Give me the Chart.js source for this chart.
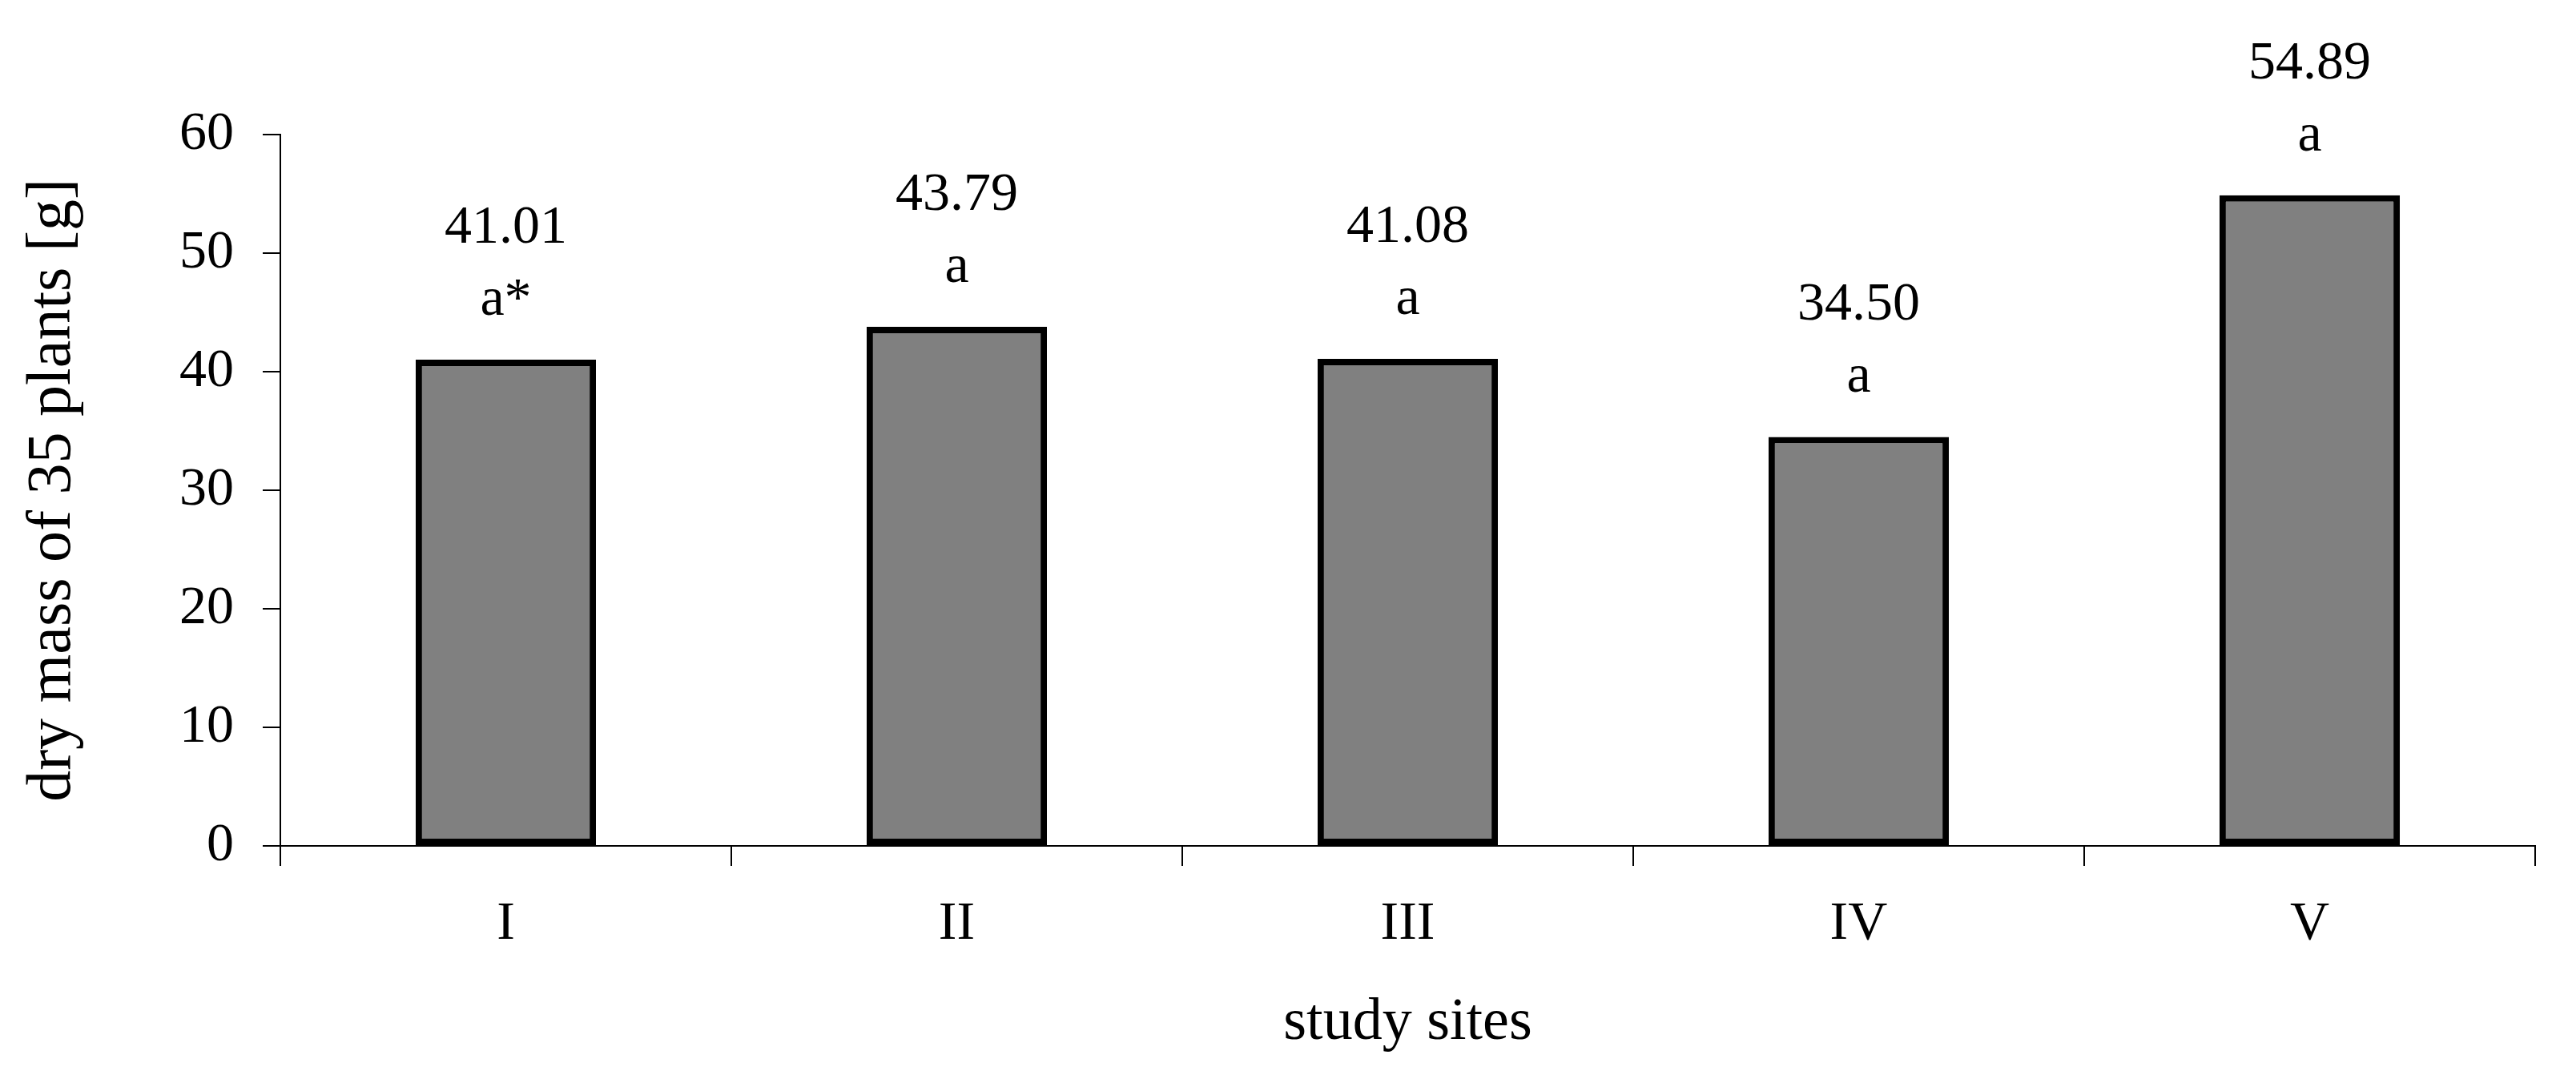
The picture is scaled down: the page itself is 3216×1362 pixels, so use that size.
<!DOCTYPE html>
<html>
<head>
<meta charset="utf-8">
<title>dry mass of 35 plants</title>
<script src="https://cdn.jsdelivr.net/npm/chart.js@4.4.1/dist/chart.umd.min.js"></script>
<style>
  html, body { margin: 0; padding: 0; background: #fff; }
  #chart-div { width: 3216px; height: 1362px; }
</style>
</head>
<body>
<div id="chart-div"><canvas id="myChart" width="3216" height="1362"></canvas></div>
<script>
// study sites and the dry mass
var sites = ["I", "II", "III", "IV", "V"];
var dryMass = [41.01, 43.79, 41.08, 34.50, 54.89];
// significance letters printed under each value
var letters = ["a*", "a", "a", "a", "a"];
var yTicks = [0, 10, 20, 30, 40, 50, 60];

var serif = "'Liberation Serif', 'Times New Roman', serif";

// draws the value and the letter above every bar
var barLabels = {
    id: "barLabels",
    afterDatasetsDraw: function (chart) {
        var ctx = chart.ctx;
        var meta = chart.getDatasetMeta(0);
        ctx.save();
        ctx.fillStyle = "#000";
        ctx.textAlign = "center";
        ctx.textBaseline = "alphabetic";
        ctx.font = "68px " + serif;
        for (var i = 0; i < meta.data.length; i++) {
            var bar = meta.data[i];
            ctx.fillText(dryMass[i].toFixed(2), bar.x, bar.y - 146);
            ctx.fillText(letters[i], bar.x, bar.y - 56);
        }
        ctx.restore();
    }
};

var ctx = document.getElementById("myChart").getContext("2d");
var chart = new Chart(ctx, {
    type: "bar",
    data: {
        labels: sites,
        datasets: [{
            label: "dry mass of 35 plants [g]",
            data: dryMass,
            backgroundColor: "#808080",
            borderColor: "#000",
            borderWidth: 8,
            borderSkipped: false,
            barPercentage: 0.4,
            categoryPercentage: 1.0
        }]
    },
    options: {
        responsive: false,
        animation: false,
        devicePixelRatio: 1,
        layout: { padding: { top: 168, right: 51, left: 0, bottom: 0 } },
        plugins: {
            legend: { display: false },
            tooltip: { enabled: false }
        },
        scales: {
            x: {
                afterFit: function (scale) { scale.height = 306; },
                border: { display: true, color: "#000", width: 2 },
                grid: {
                    display: true,
                    offset: true,
                    drawOnChartArea: false,
                    drawTicks: true,
                    tickLength: 25,
                    color: "#000",
                    lineWidth: 2
                },
                ticks: {
                    color: "#000",
                    padding: 32,
                    maxRotation: 0,
                    font: { family: serif, size: 68 }
                },
                title: {
                    display: true,
                    text: "study sites",
                    color: "#000",
                    padding: { top: 0, bottom: 40 },
                    font: { family: serif, size: 74 }
                }
            },
            y: {
                min: 0,
                max: 60,
                afterFit: function (scale) { scale.width = 350; },
                afterBuildTicks: function (scale) {
                    scale.ticks = yTicks.map(function (v) { return { value: v }; });
                },
                border: { display: true, color: "#000", width: 2 },
                grid: {
                    display: true,
                    drawOnChartArea: false,
                    drawTicks: true,
                    tickLength: 22,
                    color: "#000",
                    lineWidth: 2
                },
                ticks: {
                    color: "#000",
                    padding: 36,
                    font: { family: serif, size: 68 }
                },
                title: {
                    display: true,
                    text: "dry mass of 35 plants [g]",
                    color: "#000",
                    padding: { top: 20, bottom: 0 },
                    font: { family: serif, size: 78 }
                }
            }
        }
    },
    plugins: [barLabels]
});
</script>
</body>
</html>
